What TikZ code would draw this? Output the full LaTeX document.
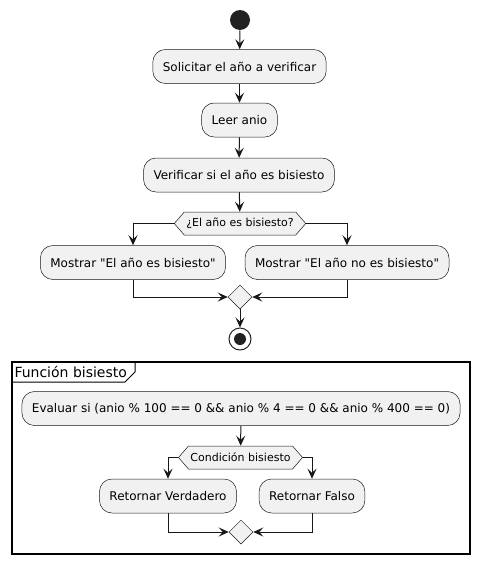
\documentclass[tikz,border=0pt]{standalone}
\usepackage{fontspec}
\setmainfont{DejaVu Sans}[Ligatures=TeXOff]
\usetikzlibrary{positioning,shapes.geometric,shapes.symbols,arrows.meta}
\definecolor{boxfill}{HTML}{F1F1F1}
\definecolor{lineclr}{HTML}{181818}
\definecolor{dotclr}{HTML}{222222}

\begin{document}
\begin{tikzpicture}[x=1pt,y=-1pt,->,>={Stealth[length=10pt,width=9pt,inset=4pt]},draw=lineclr,line width=1pt]
    \tikzstyle{activity}=[rectangle,rounded corners=12.5pt,draw=lineclr,line width=0.5pt,fill=boxfill,minimum height=34pt,inner xsep=10pt,inner ysep=0pt,font=\fontsize{12}{14}\selectfont]
    \tikzstyle{question}=[signal,signal to=west and east,signal pointer angle=98,draw=lineclr,line width=0.5pt,fill=boxfill,minimum height=23pt,inner xsep=2pt,inner ysep=0pt,font=\fontsize{11}{13}\selectfont]
    \tikzstyle{merge}=[diamond,draw=lineclr,line width=0.5pt,fill=boxfill,minimum size=24pt,inner sep=0pt]
    \tikzstyle{startdot}=[circle,fill=dotclr,minimum size=20pt,inner sep=0pt]
    \tikzstyle{stopdot}=[circle,draw=dotclr,line width=1pt,fill=white,minimum size=22pt,inner sep=0pt,
        path picture={\fill[dotclr] (path picture bounding box.center) circle (6pt);}]

    \useasboundingbox (0,0) rectangle (479,565);

    % Main flow
    \node[startdot] (start) at (240,20) {};
    \node[activity] (S-1) at (239.5,66.5) {Solicitar el año a verificar};
    \node[activity] (S-2) at (239.5,120) {Leer anio};
    \node[activity] (S-3) at (239,175) {Verificar si el año es bisiesto};
    \node[question] (Q-1) at (240,223.5) {¿El año es bisiesto?};
    \node[activity] (L-1) at (133,262.5) {Mostrar "El año es bisiesto"};
    \node[activity] (R-1) at (347,262.5) {Mostrar "El año no es bisiesto"};
    \node[merge] (M-1) at (240,297) {};
    \node[stopdot] (stop) at (240,339) {};

    \draw (start) -- (S-1);
    \draw (S-1) -- (S-2);
    \draw (S-2) -- (S-3);
    \draw (S-3) -- (Q-1);
    \draw (Q-1.west) -| (L-1.north);
    \draw (Q-1.east) -| (R-1.north);
    \draw (L-1.south) |- (M-1.west);
    \draw (R-1.south) |- (M-1.east);
    \draw (M-1) -- (stop);

    % Function frame
    \node[draw=black,line width=1.5pt,minimum width=458pt,minimum height=192pt,inner sep=0pt] (frame) at (241,458) {};
    \draw[-,black,line width=1pt] (12,382) -- (125,382) -- (135,372) -- (135,362);
    \node[anchor=west,inner sep=0pt,font=\fontsize{14}{16}\selectfont] (frametitle) at (14,372) {Función bisiesto};

    \node[activity] (E-1) at (241,408.5) {Evaluar si (anio \% 100 == 0 \&\& anio \% 4 == 0 \&\& anio \% 400 == 0)};
    \node[question] (Q-2) at (240.5,457.5) {Condición bisiesto};
    \node[activity] (T-1) at (168,496) {Retornar Verdadero};
    \node[activity] (F-1) at (312,496) {Retornar Falso};
    \node[merge] (M-2) at (241,532) {};

    \draw (E-1) -- (Q-2);
    \draw (Q-2.west) -| (T-1.north);
    \draw (Q-2.east) -| (F-1.north);
    \draw (T-1.south) |- (M-2.west);
    \draw (F-1.south) |- (M-2.east);
\end{tikzpicture}
\end{document}
